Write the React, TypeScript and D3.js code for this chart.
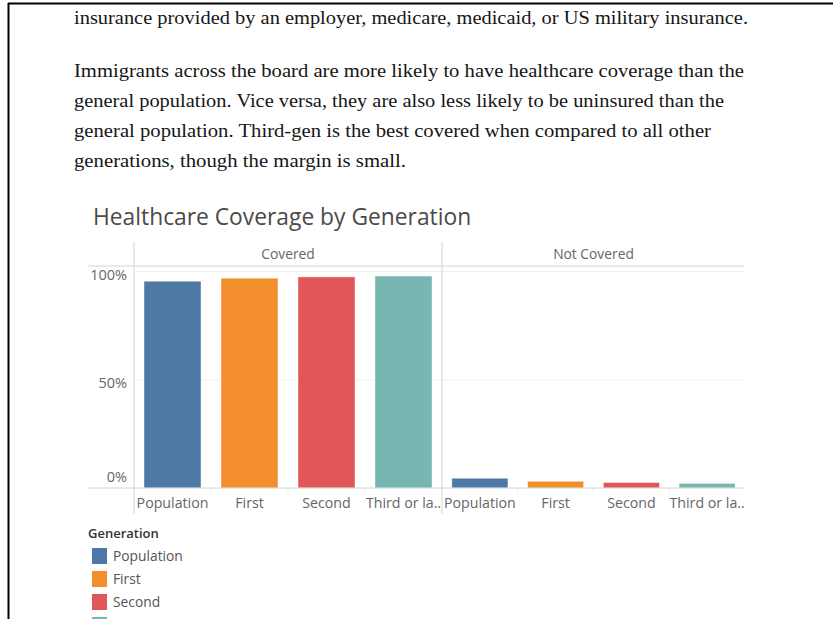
import React from "react";
import * as d3 from "d3";

const paragraphLines = [
  "insurance provided by an employer, medicare, medicaid, or US military insurance.",
  "Immigrants across the board are more likely to have healthcare coverage than the",
  "general population. Vice versa, they are also less likely to be uninsured than the",
  "general population. Third-gen is the best covered when compared to all other",
  "generations, though the margin is small.",
];
const lineBaselines = [24, 77, 107, 137, 167];
const lineWidths = [674, 670, 650, 637, 332];

const generations = ["Population", "First", "Second", "Third or later"];
const generationLabels = ["Population", "First", "Second", "Third or la.."];
const panels = ["Covered", "Not Covered"];
const coveredValues = [0.955, 0.969, 0.975, 0.979];
const notCoveredValues = [0.045, 0.031, 0.025, 0.021];
const colors = ["#4e79a7", "#f28e2b", "#e15759", "#76b7b2"];
const yTicks = [0, 0.5, 1];

export default function App() {
  const W = 833, H = 619;
  const panelStarts = [134, 442];
  const panelWidths = [308, 303];
  const axisLeft = 88;
  const right = 744;
  const yScale = d3.scaleLinear().domain([0, 1]).range([488, 271.5]);
  const values = [coveredValues, notCoveredValues];
  const fmt = d3.format(".0%");
  const sans = "'Open Sans', 'Noto Sans', sans-serif";

  return (
    <div style={{ position: "absolute", left: 0, top: 0 }}>
      <svg width={W} height={H} style={{ display: "block", background: "#fff" }}>
        <line x1={8.5} y1={3} x2={8.5} y2={H} stroke="#000" strokeWidth={2} />
        <line x1={8} y1={3.5} x2={W} y2={3.5} stroke="#000" strokeWidth={2} />

        {paragraphLines.map((t, i) => (
          <text
            key={i}
            x={74}
            y={lineBaselines[i]}
            fontFamily="'Liberation Serif', 'DejaVu Serif', serif"
            fontSize={19.5}
            fill="#161616"
            textLength={lineWidths[i]}
            lengthAdjust="spacingAndGlyphs"
          >
            {t}
          </text>
        ))}

        <text x={93} y={225} fontFamily={sans} fontSize={22.8} fill="#4a4a4a">
          Healthcare Coverage by Generation
        </text>

        {panels.map((p, pi) => (
          <text
            key={p}
            x={panelStarts[pi] + panelWidths[pi] / 2}
            y={259}
            textAnchor="middle"
            fontFamily={sans}
            fontSize={13.8}
            fill="#666"
          >
            {p}
          </text>
        ))}
        <line x1={axisLeft} x2={right} y1={266} y2={266} stroke="#d4d4d4" strokeWidth={1} />

        {yTicks.map((t) => (
          <g key={t}>
            {t > 0 && (
              <line x1={134} x2={right} y1={yScale(t)} y2={yScale(t)} stroke="#f0f0f0" strokeWidth={1} />
            )}
            <text
              x={127}
              y={t === 0 ? yScale(t) - 6 : yScale(t) + 8}
              textAnchor="end"
              fontFamily={sans}
              fontSize={14.5}
              fill="#666"
            >
              {fmt(t)}
            </text>
          </g>
        ))}

        {panels.map((p, pi) => {
          const x0 = panelStarts[pi];
          const x1 = x0 + panelWidths[pi];
          const x = d3.scaleBand().domain(generations).range([x0, x1]).paddingInner(0.26).paddingOuter(0.13);
          const catX = d3.scaleBand().domain(generations).range([x0, x1]);
          return (
            <g key={p}>
              {generations.map((g, gi) => (
                <g key={g}>
                  <rect
                    x={x(g)}
                    y={yScale(values[pi][gi])}
                    width={x.bandwidth()}
                    height={yScale(0) - yScale(values[pi][gi])}
                    fill={colors[gi]}
                    stroke="#fff"
                    strokeOpacity={0.5}
                    strokeWidth={0.8}
                  />
                  <text
                    x={(catX(g) as number) + catX.bandwidth() / 2}
                    y={508}
                    textAnchor="middle"
                    fontFamily={sans}
                    fontSize={14.2}
                    fill="#666"
                  >
                    {generationLabels[gi]}
                  </text>
                  {gi > 0 && (
                    <line x1={catX(g)} x2={catX(g)} y1={488} y2={493} stroke="#ececec" />
                  )}
                </g>
              ))}
            </g>
          );
        })}

        <line x1={axisLeft} x2={right} y1={488} y2={488} stroke="#d4d4d4" strokeWidth={1} />
        <line x1={134} x2={134} y1={242} y2={514} stroke="#d4d4d4" strokeWidth={1} />
        <line x1={442} x2={442} y1={242} y2={514} stroke="#d4d4d4" strokeWidth={1} />

        <text x={88} y={538} fontFamily={sans} fontSize={13} fontWeight={600} fill="#333">
          Generation
        </text>
        {generations.map((g, i) => (
          <g key={g}>
            <rect x={92} y={548 + i * 23} width={15} height={16} fill={colors[i]} />
            <text x={113} y={561 + i * 23} fontFamily={sans} fontSize={13.8} fill="#555">
              {g}
            </text>
          </g>
        ))}
      </svg>
    </div>
  );
}
